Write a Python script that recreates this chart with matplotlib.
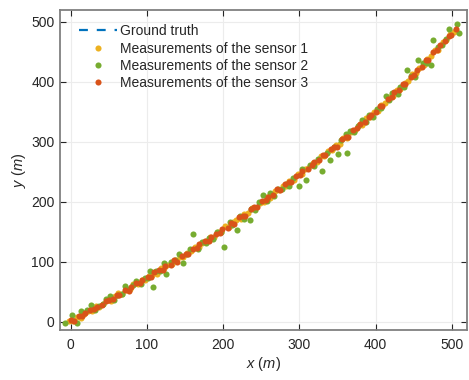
import matplotlib
matplotlib.use("Agg")
import matplotlib.pyplot as plt

plt.rcParams['font.family'] = ['Liberation Sans', 'DejaVu Sans']
plt.rcParams['mathtext.fontset'] = 'custom'
plt.rcParams['mathtext.it'] = 'Liberation Sans:italic'
plt.rcParams['mathtext.rm'] = 'Liberation Sans'

# Ground truth trajectory
gt_x = [0, 25, 50, 75, 100, 125, 150, 175, 200, 225, 250, 275, 300, 325, 350, 375, 400, 425, 450, 475, 500, 508]
gt_y = [0, 17, 35, 53, 72, 91, 111, 132, 153, 175, 198, 221, 245, 270, 295, 322, 350, 381, 412, 446, 481, 492]

# Sensor 1 (yellow)
s1_x = [-2, 3, 8, 13, 17, 23, 28, 33, 37, 43, 48, 53, 58, 62, 68, 73, 78, 82, 88, 93, 98, 103, 107, 113, 118,
        123, 127, 133, 138, 143, 148, 152, 158, 163, 168, 172, 178, 183, 188, 193, 197, 203, 208, 213, 217,
        223, 228, 233, 238, 242, 248, 253, 258, 262, 268, 273, 278, 283, 287, 293, 298, 303, 308, 312, 318,
        323, 328, 333, 337, 343, 348, 353, 357, 363, 368, 373, 378, 382, 388, 393, 398, 403, 407, 413, 418,
        423, 428, 432, 438, 443, 448, 453, 457, 463, 468, 473, 478, 482, 488, 493, 498, 503]
s1_y = [1, 1, 8, 6, 13, 18, 18, 26, 25, 30, 36, 35, 42, 47, 46, 53, 54, 62, 62, 69, 69, 76, 78, 80, 89,
        89, 95, 96, 103, 108, 107, 115, 117, 124, 124, 132, 134, 141, 141, 149, 150, 159, 158, 167, 169,
        172, 180, 182, 190, 189, 198, 200, 208, 207, 218, 219, 226, 227, 235, 237, 246, 246, 255, 256, 265,
        266, 276, 277, 284, 286, 295, 297, 306, 307, 317, 319, 328, 328, 340, 341, 350, 352, 361, 365, 375,
        377, 387, 389, 399, 401, 413, 415, 424, 428, 439, 443, 453, 454, 467, 470, 480, 484]

# Sensor 2 (green)
s2_x = [-8, 2, 8, 13, 18, 22, 27, 32, 37, 42, 47, 52, 57, 62, 67, 71, 77, 82, 86, 92, 97, 102, 104, 108, 112,
        117, 122, 125, 132, 137, 142, 148, 152, 157, 161, 167, 172, 177, 182, 187, 192, 197, 201, 209, 212,
        218, 222, 227, 235, 237, 242, 247, 252, 257, 262, 267, 272, 277, 282, 287, 292, 300, 304, 309, 314,
        319, 324, 330, 336, 340, 345, 351, 355, 361, 362, 367, 372, 377, 382, 387, 392, 397, 402, 407, 414,
        418, 422, 429, 432, 437, 441, 447, 452, 456, 462, 468, 473, 475, 482, 487, 492, 497, 507, 509]
s2_y = [-3, 11, -2, 17, 14, 19, 27, 20, 26, 29, 38, 42, 36, 44, 46, 60, 55, 61, 67, 63, 72, 73, 84, 58, 85,
        85, 97, 80, 99, 102, 112, 98, 113, 121, 147, 121, 133, 132, 140, 138, 149, 150, 125, 166, 162,
        153, 176, 172, 169, 188, 186, 199, 212, 202, 214, 210, 222, 221, 230, 226, 240, 226, 255, 237, 262,
        260, 272, 252, 282, 269, 292, 279, 303, 313, 282, 318, 316, 327, 336, 333, 345, 342, 355, 356, 376,
        369, 381, 379, 392, 392, 420, 410, 409, 436, 431, 432, 428, 470, 458, 461, 471, 488, 497, 481]

# Sensor 3 (orange)
s3_x = [1, 4, 11, 15, 19, 26, 31, 34, 41, 46, 50, 56, 61, 64, 71, 76, 79, 86, 91, 94, 101, 106, 109, 116, 121,
        124, 131, 136, 139, 146, 151, 154, 161, 166, 169, 176, 181, 184, 191, 196, 199, 206, 211, 214, 221,
        226, 229, 236, 241, 244, 251, 256, 259, 266, 271, 274, 281, 286, 289, 296, 301, 304, 311, 316, 319,
        326, 331, 334, 341, 346, 349, 356, 361, 364, 371, 376, 379, 386, 391, 394, 401, 406, 409, 416, 421,
        424, 431, 436, 439, 446, 451, 454, 461, 466, 469, 476, 481, 484, 491, 496, 499, 505]
s3_y = [2, 1, 10, 9, 14, 20, 21, 25, 27, 34, 36, 37, 45, 44, 53, 51, 58, 65, 64, 69, 74, 74, 82, 86, 86,
        93, 95, 102, 99, 110, 113, 112, 122, 123, 130, 134, 135, 142, 146, 148, 155, 157, 165, 163, 174,
        177, 177, 188, 191, 191, 201, 203, 208, 211, 221, 220, 229, 233, 233, 243, 245, 252, 254, 262, 266,
        269, 278, 278, 288, 292, 292, 305, 308, 308, 320, 323, 329, 333, 342, 344, 349, 359, 360, 372, 374,
        383, 387, 397, 396, 409, 412, 420, 425, 436, 437, 450, 453, 461, 468, 477, 478, 489]

x_ticks = [0, 100, 200, 300, 400, 500]
y_ticks = [0, 100, 200, 300, 400, 500]

fig = plt.figure(figsize=(4.69, 3.8), dpi=100)
ax = fig.add_axes([60/469, 50/380, 407/469, 320/380])

ax.plot(gt_x, gt_y, linestyle=(0, (4, 4)), color='#0072BD', lw=1.6, label='Ground truth', zorder=2)
ms = 4.4
ax.plot(s1_x, s1_y, 'o', color='#EDB120', ms=ms, mew=0, label='Measurements of the sensor 1', zorder=3)
ax.plot(s2_x, s2_y, 'o', color='#77AC30', ms=ms, mew=0, label='Measurements of the sensor 2', zorder=4)
ax.plot(s3_x, s3_y, 'o', color='#D95319', ms=ms, mew=0, label='Measurements of the sensor 3', zorder=5)

ax.set_xlim(-14, 520)
ax.set_ylim(-14, 520)
ax.set_xticks(x_ticks)
ax.set_yticks(y_ticks)
ax.grid(True, color='#ececec', lw=0.8)
ax.set_axisbelow(True)
for s in ax.spines.values():
    s.set_color('#808080')
    s.set_linewidth(1.3)
ax.tick_params(direction='in', top=True, right=True, length=4, width=0.8,
               color='#262626', labelcolor='#262626', labelsize=10)
ax.tick_params(axis='x', pad=6)
ax.tick_params(axis='y', pad=4)
ax.set_xlabel(r'$x$ ($m$)', fontsize=10.5, color='#262626', labelpad=2)
ax.set_ylabel(r'$y$ ($m$)', fontsize=10.5, color='#262626', labelpad=2)

leg = ax.legend(loc='upper left', bbox_to_anchor=(11/407, 1 - 6/320), frameon=False, fontsize=10,
                handlelength=2.7, handletextpad=0.2, labelspacing=0.24, borderaxespad=0.3, borderpad=0.3)
for t in leg.get_texts():
    t.set_color('#262626')

fig.savefig('out.png', dpi=100)
